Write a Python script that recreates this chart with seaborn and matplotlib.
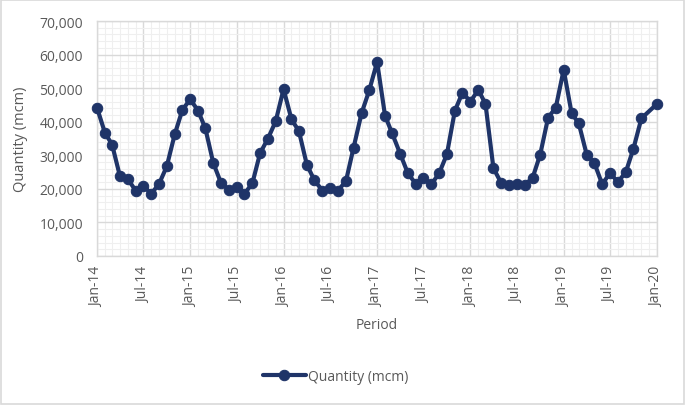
import pandas as pd
import matplotlib.pyplot as plt
import matplotlib.dates as mdates
import matplotlib.ticker as mticker
import seaborn as sns
import numpy as np
from matplotlib.patches import Rectangle

# Valores mensais (Jan-14 a Jan-20); Dez-19 não aparece no gráfico
q_2014 = [44200, 36700, 33200, 23700, 23000, 19500, 21000, 18500, 21500, 26700, 36200, 43500]
q_2015 = [46700, 43200, 38000, 27700, 21800, 19800, 20500, 18500, 21700, 30600, 35000, 40100]
q_2016 = [49700, 40700, 37200, 27200, 22500, 19500, 20300, 19500, 22300, 32300, 42500, 49300]
q_2017 = [57800, 41800, 36500, 30500, 24700, 21500, 23200, 21300, 24700, 30300, 43200, 48700]
q_2018 = [46000, 49500, 45300, 26200, 21800, 21200, 21300, 21200, 23200, 30200, 41200, 44200]
q_2019 = [55500, 42500, 39500, 30200, 27700, 21300, 24800, 22000, 25000, 32000, 41000, np.nan]
q_2020 = [45300]

quantity = q_2014 + q_2015 + q_2016 + q_2017 + q_2018 + q_2019 + q_2020
period = pd.date_range('2014-01-01', periods=len(quantity), freq='MS')
series_name = 'Quantity (mcm)'

df = pd.DataFrame({'Period': period, series_name: quantity}).dropna()

navy = '#1F3468'
grey_text = '#595959'

sns.set_style('white')
plt.rcParams['font.family'] = ['Open Sans', 'DejaVu Sans']

fig = plt.figure(figsize=(6.85, 4.06), dpi=100)
ax = fig.add_axes([0.1416, 0.367, 0.8175, 0.5788])

sns.lineplot(data=df, x='Period', y=series_name, ax=ax, color=navy, linewidth=3.0,
             marker='o', markersize=7.5, markeredgecolor=navy, label=series_name,
             legend=False, clip_on=False, zorder=3)

# Eixos e grades
ax.set_xlim(period[0], period[-1])
ax.set_ylim(0, 70000)
ax.xaxis.set_major_locator(mdates.MonthLocator(bymonth=[1, 7]))
ax.xaxis.set_minor_locator(mdates.MonthLocator())
ax.xaxis.set_major_formatter(mdates.DateFormatter('%b-%y'))
ax.yaxis.set_major_locator(mticker.MultipleLocator(10000))
ax.yaxis.set_minor_locator(mticker.MultipleLocator(2000))
ax.yaxis.set_major_formatter(mticker.StrMethodFormatter('{x:,.0f}'))

ax.grid(which='major', color='#D9D9D9', linewidth=1.0)
ax.grid(which='minor', color='#EFEFEF', linewidth=0.8)
ax.set_axisbelow(True)
for s in ax.spines.values():
    s.set_color('#D9D9D9')
    s.set_linewidth(1.0)

ax.tick_params(axis='both', which='both', length=0, colors=grey_text, labelsize=10)
ax.tick_params(axis='x', pad=7)
ax.tick_params(axis='y', pad=10)
plt.setp(ax.get_xticklabels(), rotation=90)

ax.set_xlabel('Period', color=grey_text, fontsize=10, labelpad=8)
ax.set_ylabel(series_name, color=grey_text, fontsize=10.5, labelpad=8)

handles, labels = ax.get_legend_handles_labels()
fig.legend(handles, labels, loc='center', bbox_to_anchor=(0.49, 0.071), frameon=False,
           handlelength=3.1, handletextpad=0.15, fontsize=10, labelcolor=grey_text)

# Borda da área do gráfico
fig.patches.append(Rectangle((0.002, 0.003), 0.996, 0.994, transform=fig.transFigure,
                             fill=False, edgecolor='#D9D9D9', linewidth=1.2))

plt.savefig('out.png', dpi=100)
plt.close()
